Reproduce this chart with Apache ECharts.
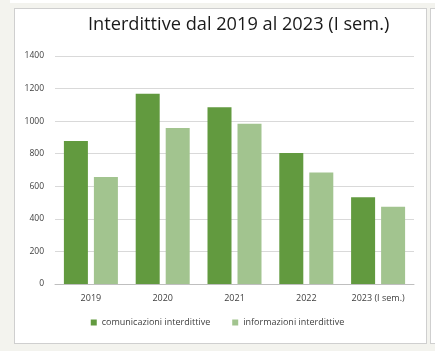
<!DOCTYPE html>
<html>
<head>
<meta charset="utf-8">
<script src="https://cdn.jsdelivr.net/npm/echarts@6/dist/echarts.min.js"></script>
<style>
  html, body { margin:0; padding:0; background:#f3f3ee; }
  #box { position:absolute; left:14px; top:8px; width:411px; height:334px; background:#fff; border:1px solid #cfcfcf; }
  #side { position:absolute; left:430px; top:8px; width:20px; height:334px; background:#fff; border:1px solid #cfcfcf; }
  #topline { position:absolute; left:10px; top:0; width:425px; height:3px; background:#fff; }
  #chart { position:absolute; left:0; top:0; width:435px; height:351px; }
</style>
</head>
<body>
<div id="topline"></div>
<div id="box"></div>
<div id="side"></div>
<div id="chart"></div>
<script>
var years = ['2019', '2020', '2021', '2022', '2023 (I sem.)']
var comunicazioni = [878, 1168, 1085, 805, 532]
var informazioni = [657, 958, 984, 684, 474]
var yTicks = [0, 200, 400, 600, 800, 1000, 1200, 1400]

var myChart = echarts.init(document.getElementById('chart'))
var option = {
    title: {
        text: 'Interdittive dal 2019 al 2023 (I sem.)',
        left: 83,
        top: 11,
        textStyle: { fontFamily: 'Open Sans', fontSize: 18.2, fontWeight: 'normal', color: '#1a1a1a' }
    },
    legend: {
        bottom: 19,
        left: 'center',
        itemWidth: 6,
        itemHeight: 6,
        itemGap: 22,
        icon: 'rect',
        textStyle: { fontFamily: 'Open Sans', fontSize: 9, color: '#404040' }
    },
    grid: { left: 55, right: 21, top: 56, bottom: 67, containLabel: false },
    xAxis: {
        type: 'category',
        data: years,
        axisLine: { lineStyle: { color: '#bfbfbf' } },
        axisTick: { show: false },
        axisLabel: { fontFamily: 'Open Sans', fontSize: 9, color: '#404040', margin: 10 }
    },
    yAxis: {
        type: 'value',
        min: yTicks[0],
        max: yTicks[yTicks.length - 1],
        interval: 200,
        axisLine: { show: false },
        axisTick: { show: false },
        axisLabel: {
            fontFamily: 'Open Sans', fontSize: 8.5, color: '#404040', margin: 11,
            formatter: function (v) { return String(v) }
        },
        splitLine: { lineStyle: { color: '#d9d9d9' } }
    },
    series: [
        {
            name: 'comunicazioni interdittive',
            type: 'bar',
            data: comunicazioni,
            barWidth: 24,
            barGap: '25%',
            itemStyle: { color: '#629a3f' }
        },
        {
            name: 'informazioni interdittive',
            type: 'bar',
            data: informazioni,
            barWidth: 24,
            itemStyle: { color: '#a2c48f' }
        }
    ]
}
myChart.setOption(option)
</script>
</body>
</html>
